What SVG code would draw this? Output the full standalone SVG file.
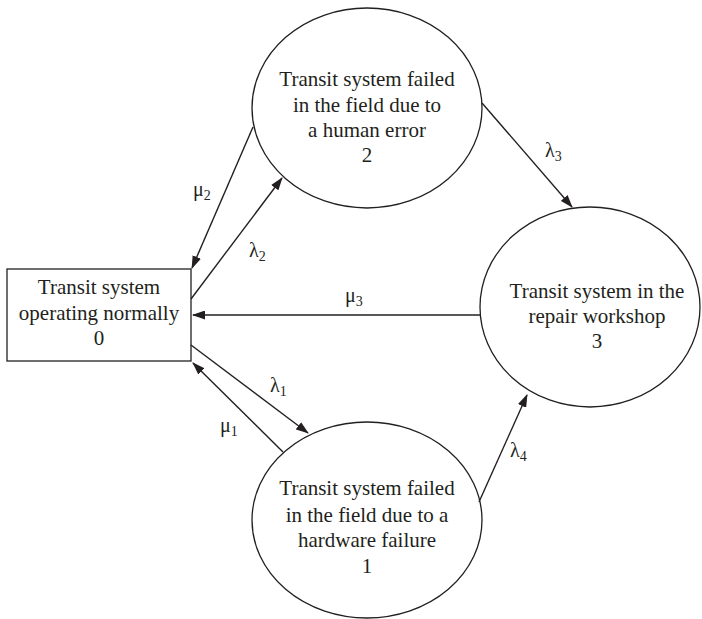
<svg xmlns="http://www.w3.org/2000/svg" width="702" height="619" viewBox="0 0 702 619">
  <style>
    .shape { fill: #ffffff; stroke: #231f20; stroke-width: 1.3; }
    .label { font-family: "Liberation Serif", "Times New Roman", serif; font-size: 21px; fill: #231f20; text-anchor: middle; }
    .rate { font-family: "Liberation Serif", "Times New Roman", serif; font-size: 20px; fill: #231f20; }
    .sub { font-size: 14px; }
    .edge { fill: none; stroke: #231f20; stroke-width: 1.4; marker-end: url(#arrow); }
  </style>
  <defs>
    <marker id="arrow" markerUnits="userSpaceOnUse" markerWidth="13" markerHeight="9" refX="12" refY="4.5" orient="auto">
      <path d="M0,0 L13,4.5 L0,9 Z" fill="#231f20"/>
    </marker>
  </defs>
  <rect width="702" height="619" fill="#ffffff"/>

  <!-- state 0 -->
  <g id="node0">
    <rect class="shape" x="7" y="269" width="184" height="92"/>
    <text class="label" x="99" y="294">Transit system</text>
    <text class="label" x="99" y="320">operating normally</text>
    <text class="label" x="99" y="345">0</text>
  </g>

  <!-- state 2 -->
  <g id="node2">
    <ellipse class="shape" cx="367" cy="108" rx="115" ry="100"/>
    <text class="label" x="367" y="86">Transit system failed</text>
    <text class="label" x="367" y="112">in the field due to</text>
    <text class="label" x="367" y="137">a human error</text>
    <text class="label" x="367" y="162">2</text>
  </g>

  <!-- state 3 -->
  <g id="node3">
    <ellipse class="shape" cx="590" cy="307" rx="110" ry="100"/>
    <text class="label" x="597" y="298">Transit system in the</text>
    <text class="label" x="597" y="323">repair workshop</text>
    <text class="label" x="597" y="348">3</text>
  </g>

  <!-- state 1 -->
  <g id="node1">
    <ellipse class="shape" cx="367" cy="520" rx="115" ry="98"/>
    <text class="label" x="367" y="495">Transit system failed</text>
    <text class="label" x="367" y="522">in the field due to a</text>
    <text class="label" x="367" y="547">hardware failure</text>
    <text class="label" x="367" y="573">1</text>
  </g>

  <!-- transitions -->
  <g id="connectors">
    <line class="edge" x1="253" y1="127" x2="192" y2="268"/>
    <line class="edge" x1="191" y1="299" x2="282" y2="178"/>
    <line class="edge" x1="481" y1="315" x2="193" y2="315"/>
    <line class="edge" x1="191" y1="345" x2="308" y2="433"/>
    <line class="edge" x1="283" y1="452" x2="193" y2="363"/>
    <line class="edge" x1="482" y1="103" x2="572" y2="207"/>
    <line class="edge" x1="479" y1="502" x2="527" y2="395"/>

    <text class="rate" x="193" y="196">μ<tspan class="sub" dy="4">2</tspan></text>
    <text class="rate" x="249" y="257">λ<tspan class="sub" dy="4">2</tspan></text>
    <text class="rate" x="345" y="302">μ<tspan class="sub" dy="4">3</tspan></text>
    <text class="rate" x="270" y="392">λ<tspan class="sub" dy="4">1</tspan></text>
    <text class="rate" x="220" y="432">μ<tspan class="sub" dy="4">1</tspan></text>
    <text class="rate" x="545" y="157">λ<tspan class="sub" dy="4">3</tspan></text>
    <text class="rate" x="510" y="457">λ<tspan class="sub" dy="4">4</tspan></text>
  </g>
</svg>
